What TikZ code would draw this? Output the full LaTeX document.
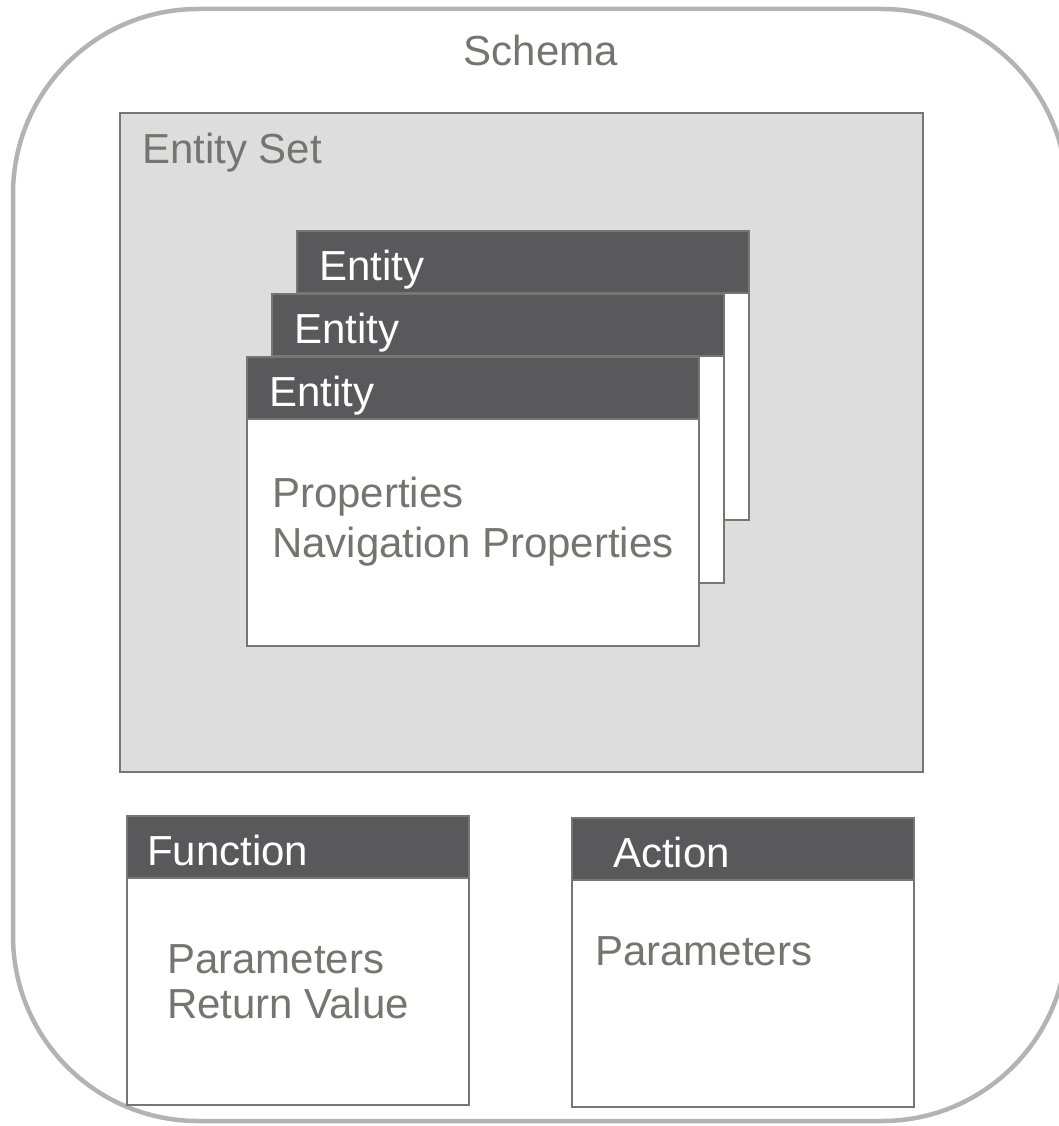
\documentclass[tikz,border=0pt]{standalone}
\usepackage{fontspec}
\setmainfont{Liberation Sans}
\usepackage{tikz}
\usetikzlibrary{positioning}
\definecolor{rim}{HTML}{B3B3B3}
\definecolor{edge}{HTML}{767672}
\definecolor{setfill}{HTML}{DDDDDD}
\definecolor{head}{HTML}{59595B}
\definecolor{ink}{HTML}{75756F}

\begin{document}
\begin{tikzpicture}
  [
    x=1pt, y=-1pt,
    every node/.style={font=\fontsize{42}{50}\selectfont, inner sep=0pt, outer sep=0pt},
    frame/.style={draw=rim, line width=4.5pt, rounded corners=185pt, minimum width=1054pt, minimum height=1112pt, anchor=north west},
    title/.style={text=ink},
    set box/.style={draw=edge, fill=setfill, line width=2.5pt, minimum width=803pt, minimum height=659pt, anchor=north west},
    card head/.style={draw=edge, fill=head, text=white, line width=2.5pt, minimum height=62pt, text height=40pt, text depth=4pt, align=left, anchor=north west},
    card body/.style={draw=edge, fill=white, line width=2.5pt, minimum height=227pt},
    entity head/.style={card head, inner xsep=22pt, text width=408pt},
    entity body/.style={card body, minimum width=452pt},
    members/.style={text=ink, align=left}
  ]
  \useasboundingbox (0,0) rectangle (1058,1126);

  % outer schema frame
  \node[frame] (schema) at (13,9) {};
  \node[title] (schema title) at (541,9) [anchor=north, yshift=-26pt] {Schema};

  % entity set with stacked entities
  \node[set box] (entity set) at (120,113) {};
  \node[title] (entity set title) [below right=20pt and 22pt of entity set.north west] {Entity Set};

  \node[entity head] (back entity) at (297,231) {Entity};
  \node[entity body] (back entity body) [below=0pt of back entity] {};
  \node[entity head] (middle entity) at (272,294) {Entity};
  \node[entity body] (middle entity body) [below=0pt of middle entity] {};
  \node[entity head] (front entity) at (247,357) {Entity};
  \node[entity body] (front entity body) [below=0pt of front entity] {};
  \node[members] (entity members) [below right=58pt and 25pt of front entity body.north west]
    {Properties\\Navigation Properties};

  % function and action
  \node[card head, inner xsep=20pt, text width=302pt] (function) at (127,816) {Function};
  \node[card body, minimum width=342pt] (function body) [below=0pt of function] {};
  \node[members, font=\fontsize{42}{45}\selectfont] (function members)
    [below right=67pt and 40pt of function body.north west] {Parameters\\Return Value};

  \node[card head, inner xsep=41pt, text width=260pt] (action) at (572,818) {Action};
  \node[card body, minimum width=342pt] (action body) [below=0pt of action] {};
  \node[members] (action members) [below right=57pt and 23pt of action body.north west] {Parameters};
\end{tikzpicture}
\end{document}
